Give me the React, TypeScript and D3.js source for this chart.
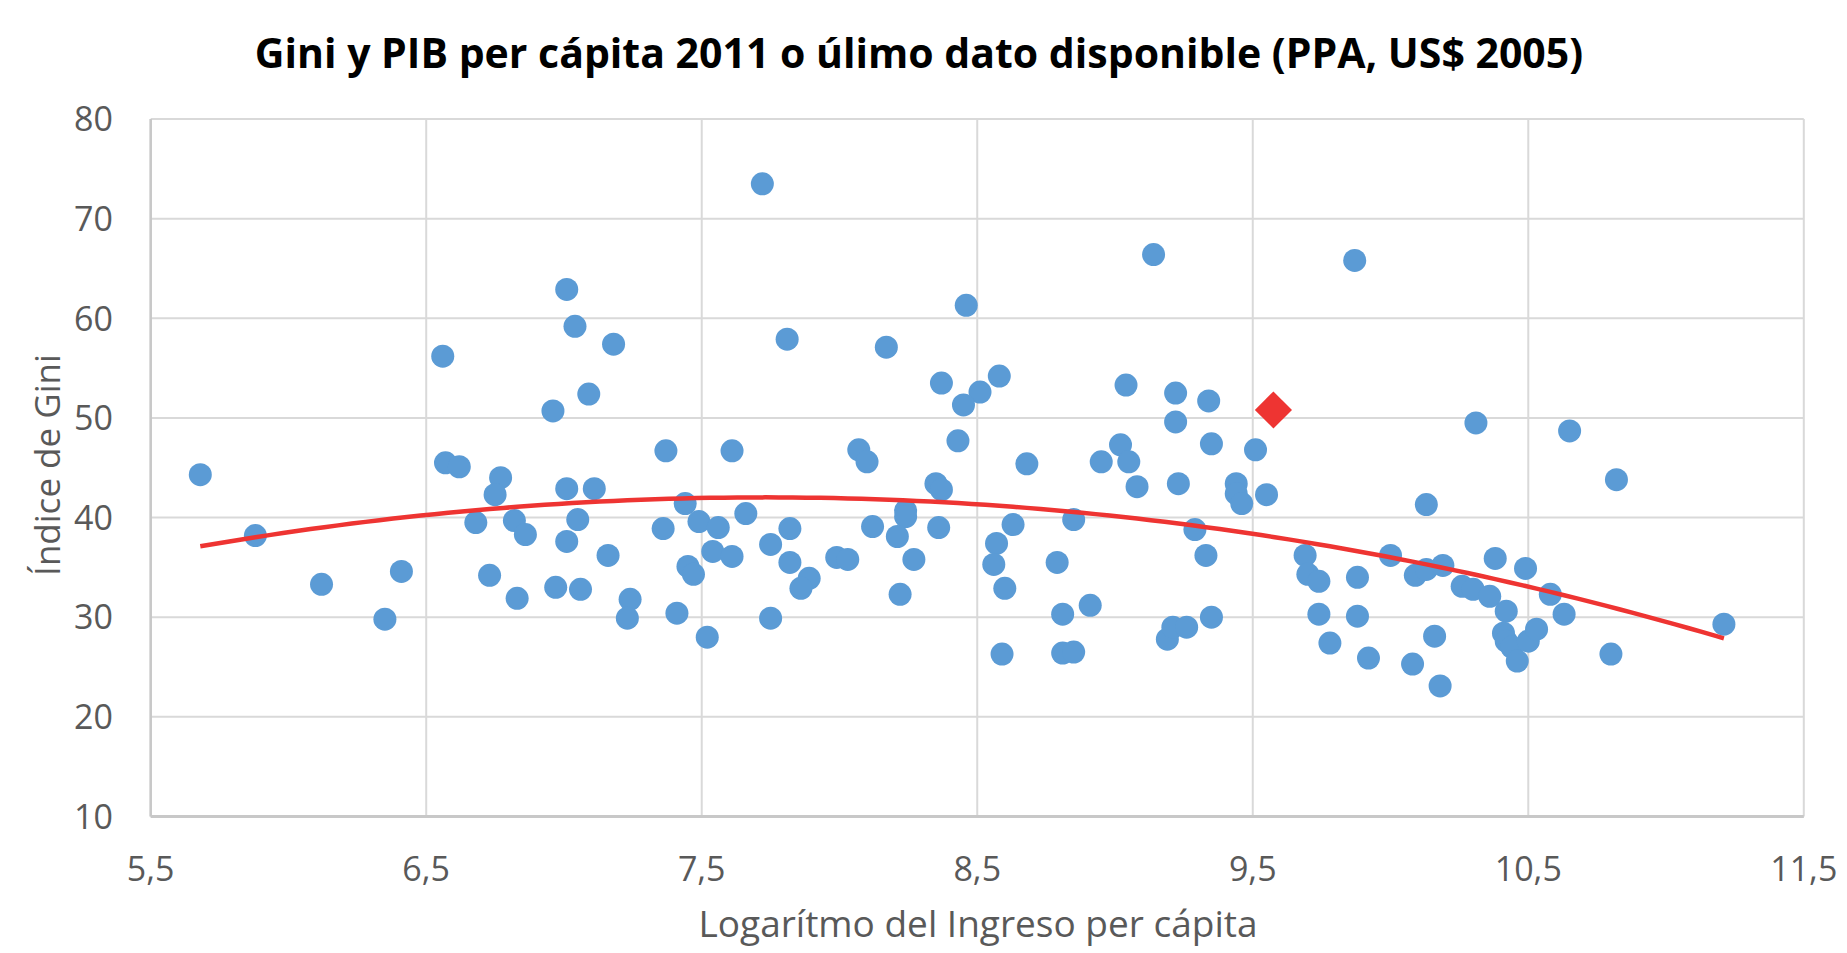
import { useEffect, useRef } from 'react';
import * as d3 from 'd3';

// log per capita income (x) and Gini index (y)
const logIncome = [
  5.68, 5.88, 6.12, 6.41, 6.35, 6.56, 6.57, 6.62, 6.77, 6.75, 6.68, 6.82, 6.86, 6.73, 6.83,
  6.96, 7.01, 7.04, 7.09, 7.18, 7.01, 7.11, 7.05, 7.01, 6.97, 7.06, 7.16, 7.24, 7.23,
  7.72, 7.81, 8.17, 8.46, 8.37, 8.58, 8.51, 8.45, 8.43, 7.37, 7.61, 8.07, 8.10, 8.68,
  8.35, 8.37, 7.44, 7.49, 7.36, 7.56, 7.66, 7.82, 7.75, 7.54, 7.61, 7.45, 7.47, 7.82,
  7.89, 7.86, 7.99, 8.03, 8.12, 8.24, 8.24, 8.21, 8.36, 8.27, 8.22, 7.41, 7.52, 7.75,
  8.63, 8.57, 8.56, 8.60, 8.59, 8.85, 8.79, 8.81, 8.91, 8.81, 8.85, 9.04, 9.22, 9.34,
  9.22, 9.02, 9.05, 8.95, 9.08, 9.23, 9.35, 9.14, 9.19, 9.21, 9.26, 9.35, 9.29, 9.33,
  9.87, 10.31, 10.65, 9.51, 10.82, 9.44, 9.44, 9.46, 9.55, 10.13, 9.69, 9.70, 9.74, 9.88,
  10.0, 10.09, 10.13, 10.19, 10.38, 10.49, 10.26, 10.30, 10.36, 10.42, 10.41, 10.42, 10.44,
  10.46, 10.50, 10.53, 10.58, 10.63, 9.74, 9.88, 9.78, 9.92, 10.08, 10.16, 10.18, 10.80, 11.21,
];
const giniIndex = [
  44.3, 38.2, 33.3, 34.6, 29.8, 56.2, 45.5, 45.1, 44.0, 42.3, 39.5, 39.7, 38.3, 34.2, 31.9,
  50.7, 62.9, 59.2, 52.4, 57.4, 42.9, 42.9, 39.8, 37.6, 33.0, 32.8, 36.2, 31.8, 29.9,
  73.5, 57.9, 57.1, 61.3, 53.5, 54.2, 52.6, 51.3, 47.7, 46.7, 46.7, 46.8, 45.6, 45.4,
  43.4, 42.8, 41.4, 39.6, 38.9, 39.0, 40.4, 38.9, 37.3, 36.6, 36.1, 35.1, 34.3, 35.5,
  33.9, 32.9, 36.0, 35.8, 39.1, 40.7, 40.1, 38.1, 39.0, 35.8, 32.3, 30.4, 28.0, 29.9,
  39.3, 37.4, 35.3, 32.9, 26.3, 39.8, 35.5, 30.3, 31.2, 26.4, 26.5, 53.3, 52.5, 51.7,
  49.6, 47.3, 45.6, 45.6, 43.1, 43.4, 47.4, 66.4, 27.8, 29.0, 29.0, 30.0, 38.8, 36.2,
  65.8, 49.5, 48.7, 46.8, 43.8, 43.4, 42.4, 41.4, 42.3, 41.3, 36.2, 34.3, 33.6, 34.0,
  36.2, 34.2, 34.8, 35.2, 35.9, 34.9, 33.1, 32.8, 32.1, 30.6, 28.4, 27.6, 27.0,
  25.6, 27.6, 28.8, 32.3, 30.3, 30.3, 30.1, 27.4, 25.9, 25.3, 28.1, 23.1, 26.3, 29.3,
];
// highlighted country (red diamond)
const highlightX = [9.575];
const highlightY = [50.8];

const xTicks = [5.5, 6.5, 7.5, 8.5, 9.5, 10.5, 11.5];
const yTicks = [10, 20, 30, 40, 50, 60, 70, 80];

// least squares fit, 2nd order polynomial
function quadFit(xs: number[], ys: number[]) {
  const n = xs.length;
  let s1 = 0, s2 = 0, s3 = 0, s4 = 0, t0 = 0, t1 = 0, t2 = 0;
  for (let i = 0; i < n; i++) {
    const x = xs[i], y = ys[i];
    s1 += x; s2 += x * x; s3 += x * x * x; s4 += x * x * x * x;
    t0 += y; t1 += x * y; t2 += x * x * y;
  }
  const m = [
    [n, s1, s2, t0],
    [s1, s2, s3, t1],
    [s2, s3, s4, t2],
  ];
  for (let c = 0; c < 3; c++) {
    for (let r = c + 1; r < 3; r++) {
      const f = m[r][c] / m[c][c];
      for (let k = c; k < 4; k++) m[r][k] -= f * m[c][k];
    }
  }
  const coef = [0, 0, 0];
  for (let r = 2; r >= 0; r--) {
    let s = m[r][3];
    for (let k = r + 1; k < 3; k++) s -= m[r][k] * coef[k];
    coef[r] = s / m[r][r];
  }
  return (x: number) => coef[0] + coef[1] * x + coef[2] * x * x;
}

function GiniChart() {
  const svgRef = useRef<SVGSVGElement>(null);

  useEffect(() => {
    if (!svgRef.current) return;
    const svg = d3.select(svgRef.current);
    svg.selectAll('*').remove();

    const font = "'Open Sans', sans-serif";
    const left = 150.7, right = 1803.8, top = 119, bottom = 816.5;

    const x = d3.scaleLinear().domain([5.5, 11.5]).range([left, right]);
    const y = d3.scaleLinear().domain([10, 80]).range([bottom, top]);

    // grid
    svg.append('g')
      .selectAll('line')
      .data(yTicks)
      .join('line')
      .attr('x1', left).attr('x2', right)
      .attr('y1', d => y(d)).attr('y2', d => y(d))
      .attr('stroke', '#d9d9d9').attr('stroke-width', 2);

    svg.append('g')
      .selectAll('line')
      .data(xTicks)
      .join('line')
      .attr('x1', d => x(d)).attr('x2', d => x(d))
      .attr('y1', top).attr('y2', bottom)
      .attr('stroke', '#d9d9d9').attr('stroke-width', 2);

    // axis lines
    svg.append('line')
      .attr('x1', left).attr('x2', left).attr('y1', top).attr('y2', bottom)
      .attr('stroke', '#c8c8c8').attr('stroke-width', 2.5);
    svg.append('line')
      .attr('x1', left).attr('x2', right).attr('y1', bottom).attr('y2', bottom)
      .attr('stroke', '#c8c8c8').attr('stroke-width', 3);

    // tick labels
    svg.append('g')
      .selectAll('text')
      .data(yTicks)
      .join('text')
      .attr('x', 113)
      .attr('y', d => y(d))
      .attr('dy', '0.36em')
      .attr('text-anchor', 'end')
      .attr('font-family', font)
      .attr('font-size', 34)
      .attr('fill', '#595959')
      .text(d => d3.format('d')(d));

    svg.append('g')
      .selectAll('text')
      .data(xTicks)
      .join('text')
      .attr('x', d => x(d))
      .attr('y', 881)
      .attr('text-anchor', 'middle')
      .attr('font-family', font)
      .attr('font-size', 34)
      .attr('fill', '#595959')
      .text(d => d.toFixed(1).replace('.', ','));

    // dots
    const pts = logIncome.map((v, i) => [v, giniIndex[i]]);
    svg.append('g')
      .selectAll('circle')
      .data(pts)
      .join('circle')
      .attr('cx', d => x(d[0]))
      .attr('cy', d => y(d[1]))
      .attr('r', 11.5)
      .attr('fill', '#5b9bd5');

    // trend line
    const fit = quadFit(logIncome, giniIndex);
    const [xMin, xMax] = d3.extent(logIncome) as [number, number];
    const trendX = d3.range(xMin, xMax, 0.05).concat([xMax]);
    const line = d3.line<number>()
      .x(d => x(d))
      .y(d => y(fit(d)));
    svg.append('path')
      .attr('d', line(trendX))
      .attr('fill', 'none')
      .attr('stroke', '#ee3432')
      .attr('stroke-width', 4.5);

    // highlighted point
    const diamond = d3.symbol().type(d3.symbolDiamond2).size(880);
    svg.append('g')
      .selectAll('path')
      .data(highlightX.map((v, i) => [v, highlightY[i]]))
      .join('path')
      .attr('d', diamond)
      .attr('transform', d => `translate(${x(d[0])},${y(d[1])})`)
      .attr('fill', '#ee3432');

    // titles
    svg.append('text')
      .attr('x', 919)
      .attr('y', 68)
      .attr('text-anchor', 'middle')
      .attr('font-family', font)
      .attr('font-weight', 'bold')
      .attr('font-size', 41)
      .attr('fill', '#000')
      .text('Gini y PIB per cápita 2011 o úlimo dato disponible (PPA, US$ 2005)');

    svg.append('text')
      .attr('x', 978)
      .attr('y', 937)
      .attr('text-anchor', 'middle')
      .attr('font-family', font)
      .attr('font-size', 37)
      .attr('fill', '#595959')
      .text('Logarítmo del Ingreso per cápita');

    svg.append('text')
      .attr('transform', 'translate(60,465) rotate(-90)')
      .attr('text-anchor', 'middle')
      .attr('font-family', font)
      .attr('font-size', 35)
      .attr('fill', '#595959')
      .text('Índice de Gini');
  }, []);

  return (
    <svg
      ref={svgRef}
      width={1847}
      height={953}
      style={{ position: 'absolute', left: 0, top: 0, display: 'block', background: '#fff' }}
    />
  );
}

export default function App() {
  return <GiniChart />;
}
